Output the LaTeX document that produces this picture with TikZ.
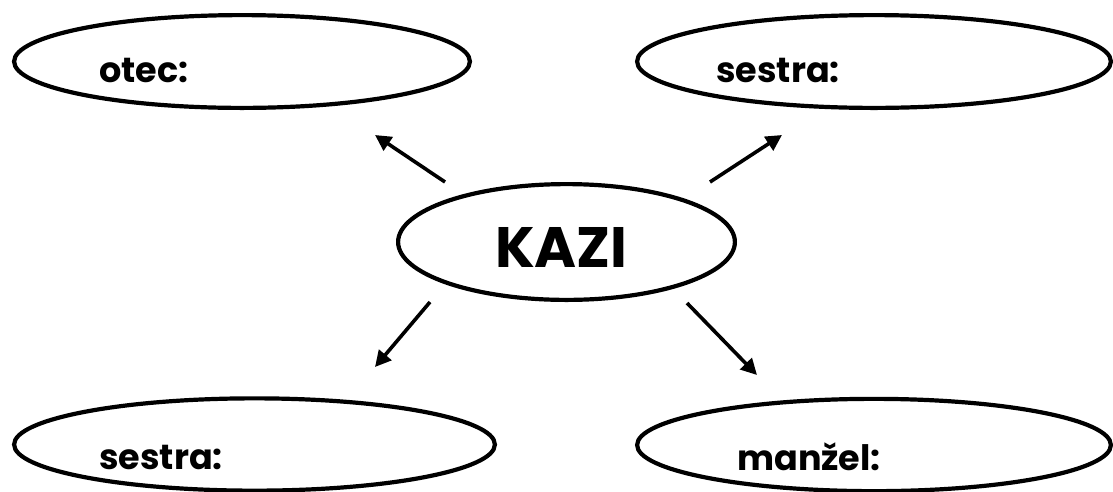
\documentclass[tikz,border=0pt]{standalone}
\usepackage{fontspec}
\setmainfont{Poppins}
\usetikzlibrary{shapes.geometric,arrows.meta}
\begin{document}
\begin{tikzpicture}[x=1pt,y=-1pt,
  oval/.style={draw, ellipse, line width=4.2pt, inner sep=0pt},
  lbl/.style={anchor=base west, inner sep=0pt, font=\bfseries\fontsize{35}{40}\selectfont},
  big/.style={anchor=base west, inner sep=0pt, font=\bfseries\fontsize{57}{64}\selectfont},
  arr/.style={line width=3.6pt, -{Triangle[length=16pt,width=16pt]}}]
\useasboundingbox (0,0) rectangle (1113,491);
\node[oval, minimum width=455.8pt, minimum height=92.8pt] (otec) at (242,61.5) {};
\node[oval, minimum width=473.8pt, minimum height=92.8pt] (sestra1) at (874,61.5) {};
\node[oval, minimum width=336.8pt, minimum height=115.8pt] (kazi) at (566.5,242) {};
\node[oval, minimum width=480.8pt, minimum height=92.3pt] (sestra2) at (254.5,444.5) {};
\node[oval, minimum width=473.8pt, minimum height=92.3pt] (manzel) at (874,445) {};
\node[lbl] (totec) at (99,82) {otec:};
\node[lbl] (tsestra1) at (716,82) {sestra:};
\node[big] (tkazi) at (495,267) {KAZI};
\node[lbl] (tsestra2) at (99,469) {sestra:};
\node[lbl] (tmanzel) at (737,470) {manžel:};
\coordinate (a1s) at (445,182); \coordinate (a1e) at (375,135);
\coordinate (a2s) at (710,182); \coordinate (a2e) at (782,135);
\coordinate (a3s) at (430,302); \coordinate (a3e) at (375,367);
\coordinate (a4s) at (687,303); \coordinate (a4e) at (757,375);
\draw[arr] (a1s) -- (a1e);
\draw[arr] (a2s) -- (a2e);
\draw[arr] (a3s) -- (a3e);
\draw[arr] (a4s) -- (a4e);
\end{tikzpicture}
\end{document}
